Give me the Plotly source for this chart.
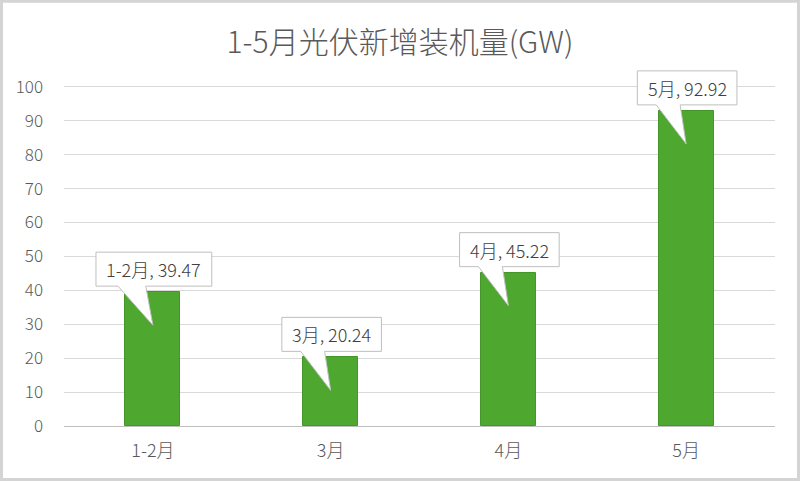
import plotly.graph_objects as go

categories = ["1-2月", "3月", "4月", "5月"]
values = [39.47, 20.24, 45.22, 92.92]
y_ticks = list(range(0, 101, 10))
title_text = "1-5月光伏新增装机量(GW)"

FONT = "Noto Sans CJK SC"
W, H = 800, 481
Y_MAX_VIEW = 115  # headroom so callouts above 100 are not clipped
ML, MR, MB = 64, 25, 55
PX_PER_UNIT = 3.39
PH = PX_PER_UNIT * Y_MAX_VIEW
MT = H - MB - PH
PW = W - ML - MR

xs = list(range(len(categories)))

fig = go.Figure()
fig.add_trace(go.Bar(
    x=xs, y=values, width=0.31,
    marker=dict(color="#4ea72e", line=dict(color="#44962a", width=1)),
    hoverinfo="skip",
))

LBL = 18


def text_width(s, size=LBL):
    w = 0
    for ch in s:
        if ord(ch) > 0x2E80:
            w += size
        elif ch.isdigit():
            w += size * 0.56
        elif ch == "-":
            w += size * 0.34
        else:
            w += size * 0.28
    return w


shapes = []
annotations = []
for i, (c, v) in enumerate(zip(categories, values)):
    label = f"{c}, {v:.2f}"
    bw = text_width(label) + 16
    g = 6
    bh = 34
    left = -bw / 2 + 1
    right = bw / 2 + 1
    tl = left + 0.19 * bw
    tr = left + 0.43 * bw
    path = (f"M {left:.1f},{g} L {tl:.1f},{g} L 0,-33 L {tr:.1f},{g} L {right:.1f},{g} "
            f"L {right:.1f},{g + bh} L {left:.1f},{g + bh} Z")
    shapes.append(dict(
        type="path", xref="x", yref="y", xsizemode="pixel", ysizemode="pixel",
        xanchor=i, yanchor=v, path=path,
        fillcolor="white", line=dict(color="#bfbfbf", width=1), layer="above",
    ))
    annotations.append(dict(
        x=i, y=v, xref="x", yref="y", text=label, showarrow=False,
        xshift=1, yshift=g + bh / 2, yanchor="middle",
        font=dict(family=FONT, size=LBL, color="#404040", weight=300),
    ))

# outer frame
px2x = lambda p: (p - ML) / PW
py2y = lambda p: (H - MB - p) / PH
shapes.append(dict(
    type="rect", xref="paper", yref="paper",
    x0=px2x(1.5), x1=px2x(798.5), y0=py2y(479.5), y1=py2y(1.5),
    line=dict(color="#d4d4d4", width=3), fillcolor="rgba(0,0,0,0)", layer="below",
))

fig.update_layout(
    width=W, height=H,
    margin=dict(l=ML, r=MR, t=MT, b=MB, autoexpand=False),
    paper_bgcolor="white", plot_bgcolor="white",
    showlegend=False,
    bargap=0,
    title=dict(text=title_text, x=0.5, xref="container", xanchor="center",
               y=1 - 42 / H, yref="container", yanchor="middle",
               font=dict(family=FONT, size=30, color="#595959", weight=300)),
    xaxis=dict(
        range=[-0.5, len(categories) - 0.5],
        tickvals=xs, ticktext=categories,
        showgrid=False, zeroline=False, showline=False,
        ticks="", ticklabelstandoff=12,
        tickfont=dict(family=FONT, size=18, color="#595959", weight=300),
    ),
    yaxis=dict(
        range=[0, Y_MAX_VIEW], tickvals=y_ticks,
        showgrid=True, gridcolor="#d9d9d9", gridwidth=1,
        zeroline=True, zerolinecolor="#bfbfbf", zerolinewidth=1,
        showline=False, ticks="", ticklabelstandoff=20,
        tickfont=dict(family=FONT, size=17, color="#595959", weight=300),
    ),
    shapes=shapes,
    annotations=annotations,
)

fig.write_html("out.html", config={"displayModeBar": False},
               post_script="document.body.style.margin='0';")
